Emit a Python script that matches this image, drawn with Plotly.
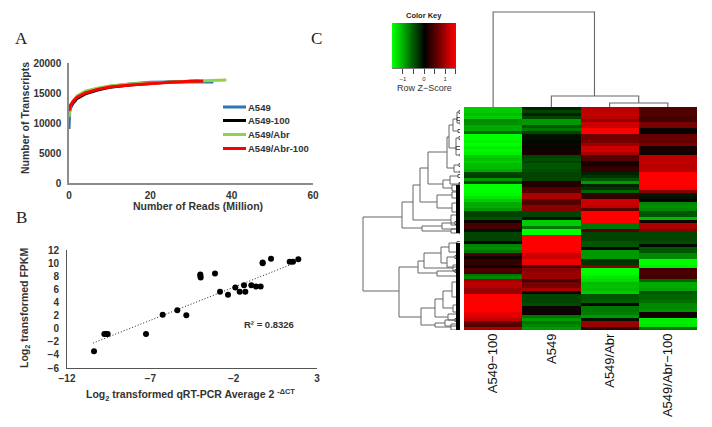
import plotly.graph_objects as go

# the page keeps its 8 px body margin, so the figure starts at (8, 8) in the window
PAGE_MARGIN = 8
W, H = 712 - PAGE_MARGIN, 427 - PAGE_MARGIN

# panel A: rarefaction curves
READS_A549 = [0, 0.05, 0.15, 0.4, 1, 2, 4, 7, 10, 15, 20, 25, 30, 35.5]
COUNT_A549 = [9000, 10700, 11800, 12500, 13300, 14200, 15000, 15700, 16100, 16500, 16800, 16850, 16850, 16850]
READS_A549_100 = [0, 0.1, 0.3, 0.6, 1, 2, 4, 7, 10, 15, 20, 25, 32]
COUNT_A549_100 = [11800, 12300, 12700, 13000, 13400, 14100, 14850, 15500, 15950, 16350, 16650, 16850, 17000]
READS_ABR = [0, 0.1, 0.3, 0.6, 1, 2, 4, 7, 10, 15, 20, 25, 30, 35, 38.7]
COUNT_ABR = [11000, 12000, 12800, 13200, 13700, 14500, 15300, 15800, 16150, 16500, 16700, 16850, 16950, 17050, 17150]
READS_ABR_100 = [0, 0.1, 0.3, 0.6, 1, 2, 4, 7, 10, 15, 20, 25, 30, 33]
COUNT_ABR_100 = [12000, 12500, 12900, 13200, 13600, 14300, 15000, 15600, 16000, 16350, 16600, 16800, 16950, 17000]

# panel B: qRT-PCR against FPKM
QPCR = [-10.38, -9.76, -9.64, -9.56, -7.26, -6.26, -5.38, -4.84, -4.0, -4.0, -3.98, -3.12, -2.82, -2.34,
        -1.9, -1.64, -1.3, -1.38, -0.94, -0.66, -0.38, -0.26, -0.26, 0.24, 1.36, 1.56, 1.88]
FPKM = [-3.45, -0.8, -0.8, -0.8, -0.8, 2.13, 2.8, 2.03, 8.27, 8.06, 7.8, 8.4, 5.63, 5.17,
        6.29, 5.63, 5.63, 6.64, 6.64, 6.44, 6.44, 9.99, 10.1, 10.65, 10.19, 10.19, 10.6]
TREND_X = [-10.44, 1.6]
TREND_Y = [-2.2, 9.95]

# panel C: heatmap, one value per row, top to bottom
HEAT_COLS = ["A549\u2212100", "A549", "A549/Abr", "A549/Abr\u2212100"]
A549_100 = [-1.2, -1.2, -1.1, -1.2, -0.8, -0.85, -1.0, -1.0, -0.6, -1.5,
            -1.5, -1.45, -1.5, -1.4, -1.45, -1.4, -1.2, -1.15, -1.2, -1.1,
            -1.1, -1.0, -0.4, -0.35, -0.9, -0.4, -1.5, -1.5, -1.5, -1.45,
            -1.35, -1.2, -1.0, -1.0, -0.9, -0.4, -0.4, -0.5, 0.1, 0.4,
            0.4, -0.1, -0.4, -0.4, -0.4, -0.05, -0.8, -0.85, -0.7, 0.4,
            0.1, 0.3, 0.3, 0.1, 0.5, 0.4, -0.7, -0.8, 0.95, 1.1,
            1.05, 0.9, 0.9, 1.5, 1.5, 1.5, 1.5, 1.5, 1.5, 1.35,
            1.3, 1.15, 0.6, 0.5, 1.0]
A549_0 = [-0.2, -0.4, -0.2, -0.4, -0.9, -0.9, -0.5, -0.7, -0.4, -0.1,
          -0.1, -0.05, 0.15, -0.05, 0.15, 0.15, -0.4, -0.45, -0.4, -0.5,
          -0.5, -0.45, -0.4, -0.4, -0.4, 0.2, 0.2, 0.5, 0.5, 1.0,
          1.0, 0.5, 0.5, 0.8, 0.8, -0.4, -0.4, -0.1, -1.2, -1.2,
          -0.7, -1.5, -1.5, 1.5, 1.5, 1.5, 1.5, 1.5, 1.45, 1.2,
          1.2, 1.4, 1.4, 0.5, 0.8, 0.9, 0.9, 0.9, 0.4, 0.7,
          0.7, 1.0, 0.1, -0.4, -0.4, -0.4, -0.45, 0.1, -0.05, 0.1,
          -0.7, -0.9, -0.7, -0.8, -0.9]
ABR_0 = [1.1, 1.1, 1.15, 1.1, 0.9, 1.2, 1.2, 1.5, 1.5, 0.65,
         0.65, 0.7, 0.9, 1.2, 1.2, 1.0, 0.5, 0.5, 0.15, 0.15,
         0.3, 0.3, -0.2, -0.3, -0.5, -0.9, -0.2, -0.3, -0.6, 0.3,
         0.3, 1.2, 1.2, 1.1, 0.5, 1.5, 1.5, 1.5, 1.5, -0.7,
         -0.7, 0.5, -0.4, -0.4, -0.4, -0.5, -0.5, -0.05, -0.9, -0.9,
         -0.9, -0.3, -0.3, 0.8, -1.5, -1.5, -1.45, -1.35, -1.3, -1.1,
         -1.15, -1.1, -1.2, -0.5, -0.5, -0.55, -0.05, -0.7, -0.7, -0.75,
         -0.9, -0.1, 0.9, 0.9, 0.3]
ABR_100 = [0.5, 0.45, 0.5, 0.4, 0.4, 0.7, 0.7, 0.05, 0.05, 0.6,
           0.6, 0.6, 0.7, 0.15, 0.15, 0.1, 1.1, 1.1, 1.15, 1.1,
           1.1, 1.1, 1.5, 1.5, 1.5, 1.5, 1.5, 1.45, 0.8, -0.15,
           -0.1, 0.1, -0.8, -0.85, -0.8, -0.5, -0.5, -1.1, 0.1, 1.0,
           1.0, 0.8, -0.4, -0.4, -0.4, -0.45, -0.05, -0.5, -0.5, -0.8,
           -0.8, -1.5, -1.5, -1.4, 0.4, 0.45, 0.4, 0.4, -0.6, -1.0,
           -1.0, -0.95, -0.5, -0.6, -0.6, -0.65, -0.8, -0.8, -0.85, 0.1,
           0.1, -1.4, -1.4, -1.35, -0.7]

KEY_STEPS = [-1.5, -1.25, -1.0, -0.75, -0.5, -0.25, 0, 0.25, 0.5, 0.75, 1.0, 1.25, 1.5]

# column tree: height, left col, right col, left child height, right child height
COL_TREE = [(95, 0, 1.74, 0, 11), (11, 1, 2.5, 0, 4), (4, 2, 3, 0, 0)]

# row tree: height, top row, bottom row, top child height, bottom child height
ROW_TREE = [
    (100, 110, 184, 61, 64), (61, 95, 121, 50, 41), (50, 78, 113, 43, 12), (43, 61, 95, 35, 26),
    (35, 45, 77, 16, 20), (16, 30, 61, 14, 9), (14, 18, 41, 10, 7), (10, 12, 24, 6, 5), (6, 5, 16, 4, 3),
    (7, 31, 48, 4, 3), (9, 58, 65, 4, 3), (20, 73, 81, 13, 11), (13, 69, 77, 5, 4), (11, 78, 84, 4, 3),
    (26, 88, 101, 11, 11), (11, 85, 91, 5, 4), (11, 96, 105, 5, 4), (12, 108, 118, 5, 4),
    (41, 119, 124, 21, 12), (21, 116, 122, 8, 6), (12, 122, 126, 4, 3),
    (64, 160, 210, 45, 42), (45, 154, 166, 39, 26), (39, 146, 161, 22, 10), (22, 140, 156, 14, 16),
    (14, 136, 145, 6, 5), (16, 150, 160, 8, 6), (10, 158, 164, 4, 3), (26, 164, 169, 8, 6),
    (42, 201, 218, 28, 28), (28, 192, 210, 20, 15), (20, 184, 201, 11, 10), (11, 175, 190, 6, 4),
    (10, 198, 205, 4, 3), (15, 207, 213, 6, 5), (28, 216, 220, 18, 12), (18, 213, 219, 8, 5), (12, 217, 223, 6, 5),
]
# rows where the leaves pile up into a solid block: top row, bottom row
LEAF_BLOCKS = [(78, 126), (136, 223)]


def dom_x(a, b):
    return [(a - PAGE_MARGIN) / W, (b - PAGE_MARGIN) / W]


def dom_y(top, bottom):
    return [1 - (bottom - PAGE_MARGIN) / H, 1 - (top - PAGE_MARGIN) / H]


def tree_path(nodes):
    xs, ys = [], []
    for h, a, b, ha, hb in nodes:
        xs += [ha, h, h, hb, None]
        ys += [a, a, b, b, None]
    return xs, ys


def leaf_path(nodes, heights):
    # the short children that have no node of their own end in a small fork
    xs, ys = [], []
    for h, a, b, ha, hb in nodes:
        for child, row in ((ha, a), (hb, b)):
            if child not in heights or child <= 8:
                xs += [0, child, child, 0, None]
                ys += [row - 1.5, row - 1.5, row + 1.5, row + 1.5, None]
    return xs, ys


fig = go.Figure()

AXIS_FONT = dict(family="Liberation Sans", size=10, color="#333333", weight="bold")
TITLE_FONT = dict(family="Liberation Sans", size=10.5, color="#333333", weight="bold")
SMALL_BOLD = dict(family="Liberation Sans", size=9.5, color="#333333", weight="bold")

SERIES = [("A549", READS_A549, COUNT_A549, "#2E75B6"),
          ("A549-100", READS_A549_100, COUNT_A549_100, "#000000"),
          ("A549/Abr", READS_ABR, COUNT_ABR, "#92D050"),
          ("A549/Abr-100", READS_ABR_100, COUNT_ABR_100, "#FF0000")]
for name, xs, ys, color in SERIES:
    fig.add_trace(go.Scatter(x=xs, y=ys, mode="lines", name=name, showlegend=False,
                             line=dict(color=color, width=3), xaxis="x", yaxis="y"))

fig.add_trace(go.Scatter(x=TREND_X, y=TREND_Y, mode="lines", showlegend=False,
                         line=dict(color="#222222", width=1, dash="1px,2px"), xaxis="x2", yaxis="y2"))
fig.add_trace(go.Scatter(x=QPCR, y=FPKM, mode="markers", showlegend=False,
                         marker=dict(color="#000000", size=6), xaxis="x2", yaxis="y2"))

COLORS = [[0, "#00FF00"], [0.5, "#000000"], [1, "#FF0000"]]
fig.add_trace(go.Heatmap(x=KEY_STEPS, y=[0], z=[KEY_STEPS], colorscale=COLORS, zmin=-1.5, zmax=1.5,
                         showscale=False, zsmooth="best", xaxis="x3", yaxis="y3"))
fig.add_trace(go.Heatmap(z=[list(r) for r in zip(A549_100, A549_0, ABR_0, ABR_100)], colorscale=COLORS,
                         zmin=-1.5, zmax=1.5, showscale=False, xaxis="x4", yaxis="y4"))

col_x, col_y = [], []
for h, a, b, ha, hb in COL_TREE:
    col_x += [a, a, b, b, None]
    col_y += [ha, h, h, hb, None]
fig.add_trace(go.Scatter(x=col_x, y=col_y, mode="lines", showlegend=False,
                         line=dict(color="#666666", width=1.1), xaxis="x5", yaxis="y5"))

row_x, row_y = tree_path(ROW_TREE)
fig.add_trace(go.Scatter(x=row_x, y=row_y, mode="lines", showlegend=False,
                         line=dict(color="#666666", width=1), xaxis="x6", yaxis="y6"))
leaf_x, leaf_y = leaf_path(ROW_TREE, [n[0] for n in ROW_TREE])
fig.add_trace(go.Scatter(x=leaf_x, y=leaf_y, mode="lines", showlegend=False,
                         line=dict(color="#333333", width=0.8), xaxis="x6", yaxis="y6"))
block_x, block_y = [], []
for top, bottom in LEAF_BLOCKS:
    block_x += [5, 5, None]
    block_y += [top, bottom, None]
fig.add_trace(go.Scatter(x=block_x, y=block_y, mode="lines", showlegend=False,
                         line=dict(color="#000000", width=4), xaxis="x6", yaxis="y6"))

hidden = dict(visible=False, showgrid=False, zeroline=False, automargin=False)
plain = dict(showgrid=False, zeroline=False, automargin=False, ticks="")
fig.update_layout(
    width=W, height=H, autosize=False,
    margin=dict(l=0, r=0, t=0, b=0),
    paper_bgcolor="white", plot_bgcolor="white",
    showlegend=False,
    xaxis=dict(domain=dom_x(69, 313), range=[0, 60], tickvals=[0, 20, 40, 60], ticklabelstandoff=2,
               showline=True, linecolor="#8C8C8C", linewidth=1.5, tickfont=AXIS_FONT, anchor="y", **plain),
    yaxis=dict(domain=dom_y(63, 183), range=[0, 20000], tickvals=[0, 5000, 10000, 15000, 20000], tickformat="d",
               ticklabelstandoff=4,
               showline=True, linecolor="#8C8C8C", linewidth=1.5, tickfont=AXIS_FONT, anchor="x", **plain),
    xaxis2=dict(domain=dom_x(67, 317), range=[-12, 3], tickvals=[-12, -7, -2, 3], ticklabelstandoff=1,
                showline=True, linecolor="#555555", linewidth=1, tickfont=AXIS_FONT, anchor="y2", **plain),
    yaxis2=dict(domain=dom_y(250, 368), range=[-6, 12], tickvals=list(range(-6, 13, 2)), ticklabelstandoff=5,
                showline=True, linecolor="#555555", linewidth=1, tickfont=AXIS_FONT, anchor="x2", **plain),
    xaxis3=dict(domain=dom_x(392, 456), range=[-1.52, 1.52], tickvals=[-1, 0, 1], ticktext=["\u22121", "0", "1"],
                ticks="outside", ticklen=5, tickcolor="#444444", automargin=False,
                minor=dict(tickvals=[-0.5, 0.5, 1.5], ticks="outside", ticklen=5, tickcolor="#444444"),
                tickfont=dict(family="Liberation Sans", size=6, color="#333333"), showline=True, linecolor="#777777",
                showgrid=False, zeroline=False, anchor="y3"),
    yaxis3=dict(domain=dom_y(23, 68), range=[-0.5, 0.5], anchor="x3", **hidden),
    xaxis4=dict(domain=dom_x(464, 697), range=[-0.5, 3.5], tickvals=[0, 1, 2, 3], ticktext=HEAT_COLS, tickangle=-90,
                tickfont=dict(family="Liberation Sans", size=13, color="#111111"), anchor="y4", **plain),
    yaxis4=dict(domain=dom_y(107, 330), range=[74.5, -0.5], anchor="x4", **hidden),
    xaxis5=dict(domain=dom_x(464, 697), range=[-0.5, 3.5], anchor="y5", **hidden),
    yaxis5=dict(domain=dom_y(11, 107), range=[0, 96], anchor="x5", **hidden),
    xaxis6=dict(domain=dom_x(355, 460), range=[108, 3], anchor="y6", **hidden),
    yaxis6=dict(domain=dom_y(107, 330), range=[223, 0], anchor="x6", **hidden),
)

# free text, placed by its centre in window pixels
LABELS = [
    ("A", 21, 38, 0, dict(family="Liberation Serif", size=17, color="#222222")),
    ("B", 21, 217, 0, dict(family="Liberation Serif", size=17, color="#222222")),
    ("C", 316, 38, 0, dict(family="Liberation Serif", size=17, color="#222222")),
    ("Number of Reads (Million)", 198, 206, 0, TITLE_FONT),
    ("Number of Transcripts", 25, 118, -90, TITLE_FONT),
    ("Log<sub>2</sub> transformed qRT-PCR Average 2 <sup>-\u0394CT</sup>", 190, 395, 0, TITLE_FONT),
    ("Log<sub>2</sub> transformed FPKM", 25, 308, -90, TITLE_FONT),
    ("R\u00b2 = 0.8326", 269, 324, 0, SMALL_BOLD),
    ("Color Key", 424, 16, 0, dict(family="Liberation Sans", size=7.5, color="#222222", weight="bold")),
    ("Row Z\u2212Score", 424, 88, 0, dict(family="Liberation Sans", size=9, color="#333333")),
]
for text, x, y, angle, font in LABELS:
    fig.add_annotation(text=text, x=(x - PAGE_MARGIN) / W, y=1 - (y - PAGE_MARGIN) / H, xref="paper", yref="paper",
                       xanchor="center", yanchor="middle", showarrow=False, textangle=angle, font=font)

# hand-built legend: plotly's own will not set its rows this close together
LEGEND_ROWS = [107, 120.5, 134.5, 148.5]
for (name, xs, ys, color), row in zip(SERIES, LEGEND_ROWS):
    row_y_paper = 1 - (row - PAGE_MARGIN) / H
    fig.add_shape(type="line", xref="paper", yref="paper", x0=(223 - PAGE_MARGIN) / W, x1=(246 - PAGE_MARGIN) / W,
                  y0=row_y_paper, y1=row_y_paper, line=dict(color=color, width=3))
    fig.add_annotation(text=name, x=(247 - PAGE_MARGIN) / W, y=row_y_paper, xref="paper", yref="paper",
                       xanchor="left", yanchor="middle", showarrow=False, xshift=-1, font=SMALL_BOLD)

fig.write_html("out.html")
